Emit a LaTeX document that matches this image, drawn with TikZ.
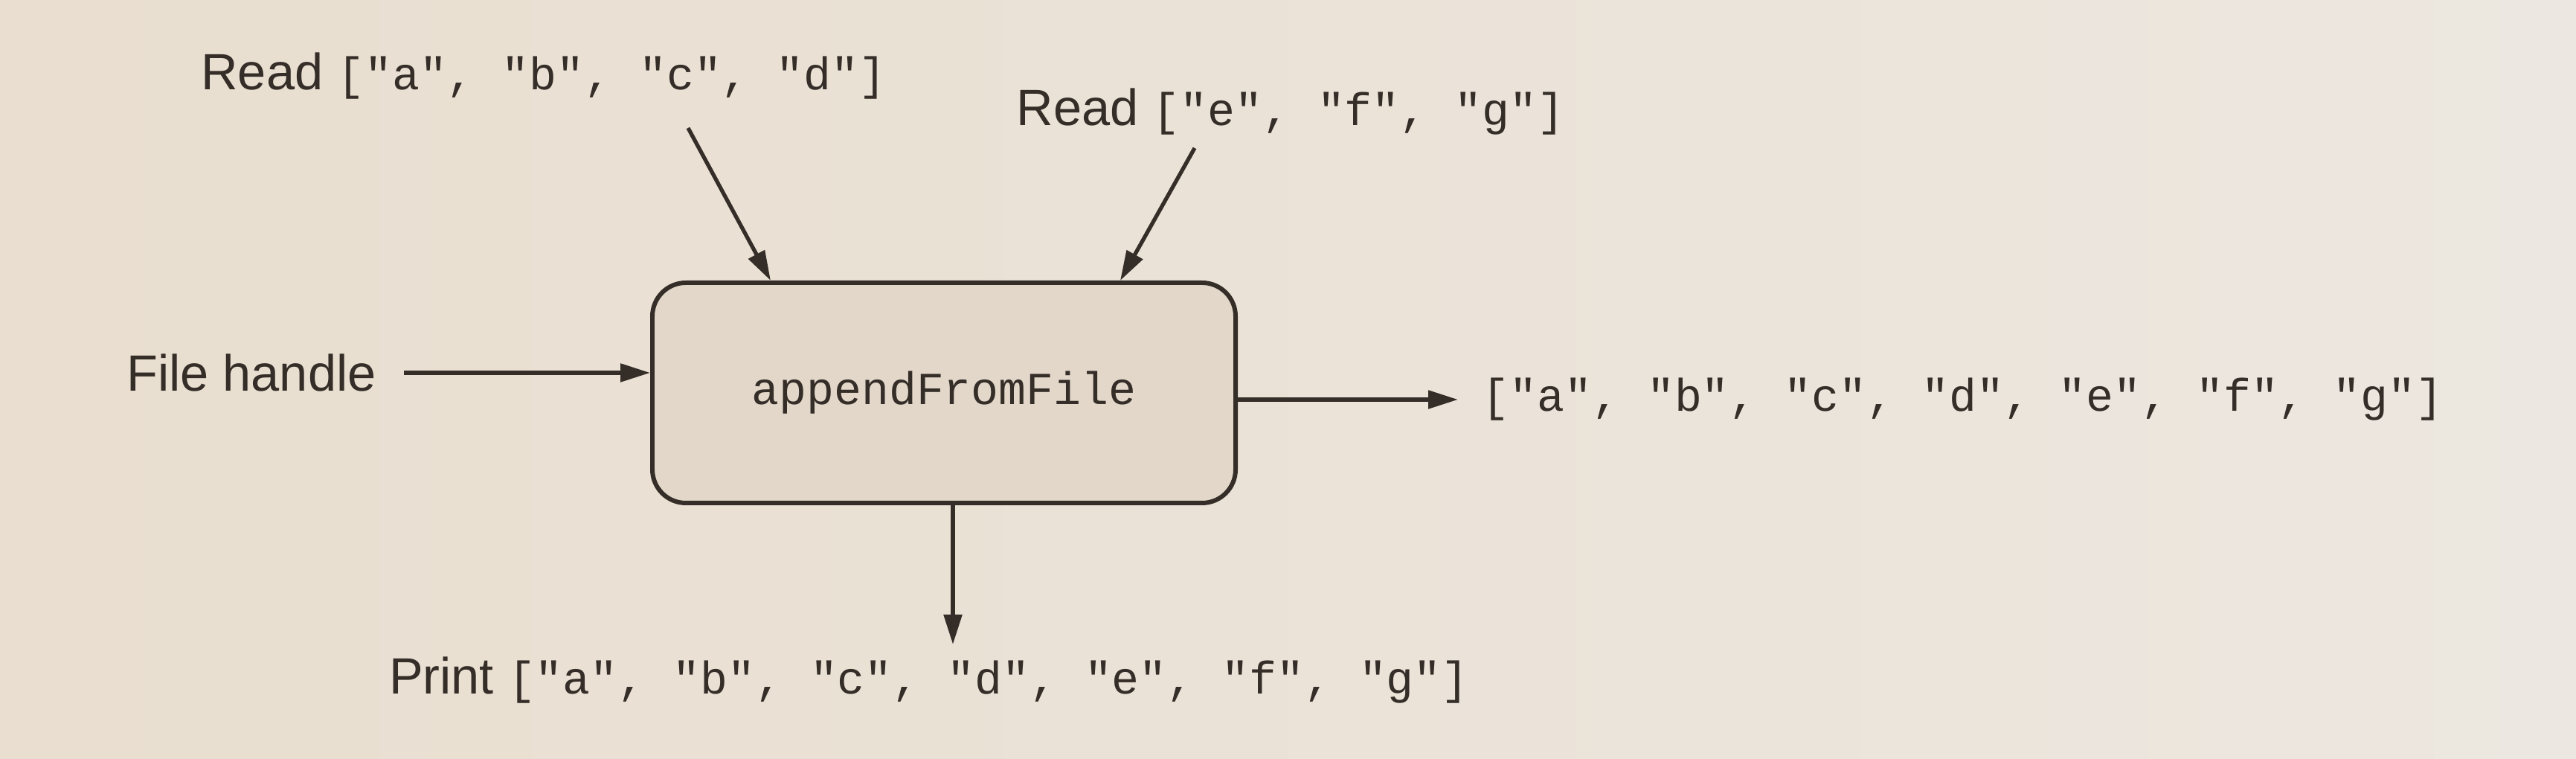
\documentclass[tikz,border=0pt]{standalone}
\usepackage{fontspec}
\setsansfont{Liberation Sans}
\setmonofont{Liberation Mono}
\usetikzlibrary{arrows.meta,calc}
\usepackage{xcolor}
\definecolor{paper}{RGB}{233,222,207}
\definecolor{paperR}{RGB}{236,231,224}
\definecolor{ink}{RGB}{52,45,40}
\newcommand{\cdfont}{\ttfamily\fontsize{17.5}{21}\selectfont}

\begin{document}
\begin{tikzpicture}
 \tikzstyle{every node}=[text=ink, inner sep=2pt]
 \tikzstyle{lbl}=[font=\sffamily\fontsize{19.5}{23}\selectfont]
 \tikzstyle{fnbox}=[draw=ink, line width=1.7pt, rounded corners=0.45cm,
                    fill=paper!93!gray, minimum width=7.84cm, minimum height=2.96cm]
 \tikzstyle{arr}=[draw=ink, line width=1.5pt,
                  -{Triangle[length=0.4cm, width=0.24cm]}]

        \shade[left color=paper, right color=paperR] (0,0) rectangle (34.63,10.2);

        \node[fnbox] (box) at (12.69,4.92) {\cdfont appendFromFile};

        \node[lbl] (rd1) at (7.31,9.18) {Read \cdfont ["a", "b", "c", "d"]};
        \node[lbl] (rd2) at (17.35,8.70) {Read \cdfont ["e", "f", "g"]};
        \node[lbl] (fh)  at (3.38,5.19) {File handle};
        \node[lbl, anchor=west] (out) at (19.85,4.83) {\cdfont ["a", "b", "c", "d", "e", "f", "g"]};
        \node[lbl] (prt) at (12.49,1.06) {Print \cdfont ["a", "b", "c", "d", "e", "f", "g"]};

        \coordinate (r1s) at (9.25,8.48);
        \coordinate (r2s) at (16.06,8.21);
        \coordinate (r1e) at ($(box.north west)!0.205!(box.north east)$);
        \coordinate (r2e) at ($(box.north west)!0.80!(box.north east)$);
        \coordinate (dns) at ($(box.south)+(0.12,0)$);
        \coordinate (dne) at (dns |- 0,1.54);

        \draw[arr] (r1s) -- (r1e);
        \draw[arr] (r2s) -- (r2e);
        \draw[arr, shorten <=0.3cm] (fh.east) -- (box.west |- fh.east);
        \draw[arr, shorten >=0.25cm] (box.east |- out.west) -- (out.west);
        \draw[arr] (dns) -- (dne);

\end{tikzpicture}
\end{document}
